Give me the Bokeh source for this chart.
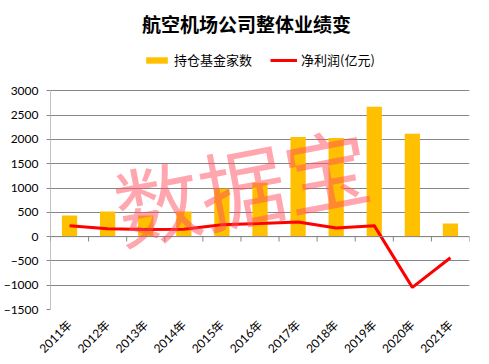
import math
from bokeh.plotting import figure
from bokeh.models import (Range1d, FixedTicker, Legend, LegendItem, Span, Label)
from bokeh.embed import file_html
from bokeh.resources import INLINE

years = ["2011年", "2012年", "2013年", "2014年", "2015年", "2016年",
         "2017年", "2018年", "2019年", "2020年", "2021年"]
funds = [435, 515, 435, 515, 985, 1110, 2050, 2030, 2675, 2115, 270]
profit = [225, 160, 145, 150, 245, 270, 300, 178, 226, -1045, -435]
y_ticks = [-1500, -1000, -500, 0, 500, 1000, 1500, 2000, 2500, 3000]

title_text = "航空机场公司整体业绩变"
legend_labels = ["持仓基金家数", "净利润(亿元)"]
watermark = "数据宝"

BAR_COLOR = "#FFC000"
LINE_COLOR = "#FF0000"
GRID_COLOR = "#868686"

xs = list(range(len(years)))
bounds = [i - 0.5 for i in range(len(years) + 1)]

# headroom above the top tick holds the title and legend
HEADROOM = 1860

p = figure(width=473, height=364, output_backend="svg", toolbar_location=None,
           x_range=Range1d(-0.5, len(years) - 0.5),
           y_range=Range1d(min(y_ticks), max(y_ticks) + HEADROOM),
           min_border_left=44, min_border_right=4, min_border_top=0,
           min_border_bottom=54)
p.outline_line_color = None
p.background_fill_color = "white"

label_font = "Lato, 'Noto Sans CJK SC'"

p.xgrid.grid_line_color = None
p.ygrid.grid_line_color = GRID_COLOR
p.ygrid.grid_line_width = 1

bars = p.vbar(x=xs, top=funds, width=0.4, color=BAR_COLOR, line_color=None)
line = p.line(xs, profit, line_color=LINE_COLOR, line_width=3)

# zero axis line with ticks at category boundaries
p.add_layout(Span(location=0, dimension="width", line_color=GRID_COLOR, line_width=1))
p.segment(x0=bounds, y0=[0] * len(bounds), x1=bounds, y1=[-100] * len(bounds),
          line_color=GRID_COLOR, line_width=1)
# value axis line (only over the tick span)
p.segment(x0=[bounds[0]], y0=[min(y_ticks)], x1=[bounds[0]], y1=[max(y_ticks)],
          line_color=GRID_COLOR, line_width=1)

p.xaxis.ticker = FixedTicker(ticks=xs)
p.xaxis.major_label_overrides = {i: y for i, y in enumerate(years)}
p.xaxis.major_label_orientation = math.pi / 4
p.xaxis.axis_line_color = None
p.xaxis.major_tick_line_color = None
p.xaxis.minor_tick_line_color = None
p.xaxis.major_label_text_font = label_font
p.xaxis.major_label_text_font_size = "12px"
p.xaxis.major_label_text_color = "#000000"
p.xaxis.major_label_standoff = 7

p.yaxis.ticker = FixedTicker(ticks=y_ticks)
p.yaxis.axis_line_color = None
p.yaxis.major_tick_line_color = GRID_COLOR
p.yaxis.major_tick_out = 4
p.yaxis.major_tick_in = 0
p.yaxis.minor_tick_line_color = None
p.yaxis.major_label_text_font = label_font
p.yaxis.major_label_text_font_size = "12px"
p.yaxis.major_label_text_color = "#000000"
p.yaxis.major_label_standoff = 8

# watermark
p.add_layout(Label(x=191, y=126, x_units="screen", y_units="screen",
                   text=watermark, angle=0.19, text_font="'Noto Sans CJK SC'",
                   text_font_size="86px", text_color="#ff4d5e", text_alpha=0.5,
                   text_align="center", text_baseline="middle"))

# title
p.add_layout(Label(x=196, y=286, x_units="screen", y_units="screen",
                   text=title_text, text_font="'Noto Sans CJK SC'",
                   text_font_size="19px", text_font_style="bold",
                   text_color="#000000", text_align="center",
                   text_baseline="middle"))

legend = Legend(items=[LegendItem(label=legend_labels[0], renderers=[bars]),
                       LegendItem(label=legend_labels[1], renderers=[line])],
                orientation="horizontal", location=(93, 240),
                label_text_font="'Noto Sans CJK SC'", label_text_font_size="13px",
                label_text_color="#000000",
                glyph_width=27, glyph_height=8, label_height=16, spacing=18,
                padding=0, margin=0, border_line_color=None,
                background_fill_alpha=0, label_standoff=4)
p.add_layout(legend, "center")

open("out.html", "w").write(file_html(p, INLINE))
